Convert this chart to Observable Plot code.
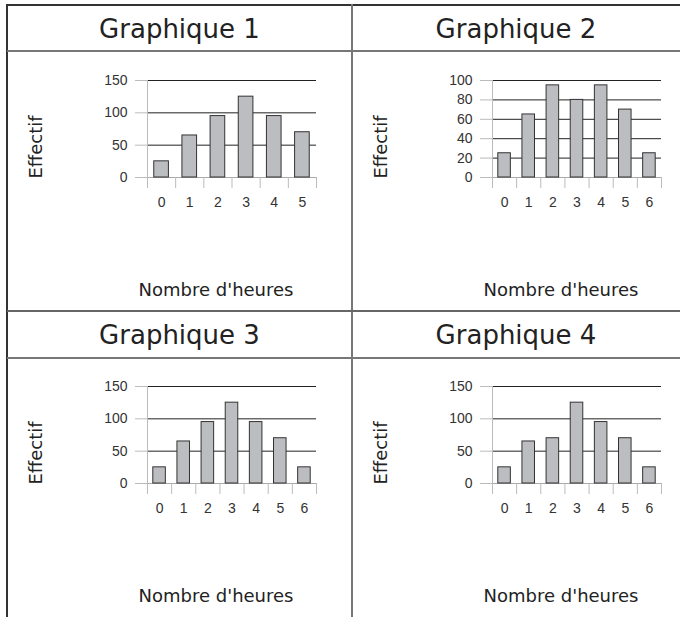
<!DOCTYPE html>
<html>
<head>
<meta charset="utf-8">
<script src="https://cdn.jsdelivr.net/npm/d3@7"></script>
<script src="https://cdn.jsdelivr.net/npm/@observablehq/plot@0.6"></script>
<style>
  html, body { margin: 0; padding: 0; background: #fff; }
  #root { position: relative; width: 680px; height: 617px; overflow: hidden; font-family: "DejaVu Sans", sans-serif; color: #222; }
  .hline, .vline { position: absolute; background: #555; }
  .title { position: absolute; font-size: 26px; transform: translate(-50%, -50%); white-space: nowrap; color: #222; }
  .ylab { position: absolute; font-size: 18px; transform: translate(-50%, -50%) rotate(-90deg); white-space: nowrap; color: #222; }
  .xlab { position: absolute; font-size: 18px; transform: translate(-50%, -50%); white-space: nowrap; color: #222; }
  .plot { position: absolute; }
</style>
</head>
<body>
<div id="root"></div>
<script>
// ---- Data ----
const titles = ["Graphique 1", "Graphique 2", "Graphique 3", "Graphique 4"];
const yLabel = "Effectif";
const xLabel = "Nombre d'heures";

const hours1 = [0, 1, 2, 3, 4, 5];
const effectif1 = [25, 65, 95, 125, 95, 70];

const hours2 = [0, 1, 2, 3, 4, 5, 6];
const effectif2 = [25, 65, 95, 80, 95, 70, 25];

const hours3 = [0, 1, 2, 3, 4, 5, 6];
const effectif3 = [25, 65, 95, 125, 95, 70, 25];

const hours4 = [0, 1, 2, 3, 4, 5, 6];
const effectif4 = [25, 65, 70, 125, 95, 70, 25];

const yTicksA = [0, 50, 100, 150];
const yTicksB = [0, 20, 40, 60, 80, 100];

// ---- Layout ----
const root = document.getElementById("root");
const cells = [
  {x: 7, y: 5, w: 345, hours: hours1, values: effectif1, yTicks: yTicksA},
  {x: 352, y: 5, w: 328, hours: hours2, values: effectif2, yTicks: yTicksB},
  {x: 7, y: 311, w: 345, hours: hours3, values: effectif3, yTicks: yTicksA},
  {x: 352, y: 311, w: 328, hours: hours4, values: effectif4, yTicks: yTicksA}
];

function line(cls, style) {
  const d = document.createElement("div");
  d.className = cls;
  Object.assign(d.style, style);
  root.appendChild(d);
}
// table lines
line("hline", {left: "7px", top: "4px", width: "673px", height: "1.5px", background: "#333"});
line("vline", {left: "6px", top: "4px", width: "1.5px", height: "613px", background: "#333"});
line("vline", {left: "351px", top: "4px", width: "2px", height: "613px", background: "#777"});
line("hline", {left: "7px", top: "50px", width: "673px", height: "2px", background: "#777"});
line("hline", {left: "7px", top: "310px", width: "673px", height: "2px", background: "#666"});
line("hline", {left: "7px", top: "357px", width: "673px", height: "2px", background: "#777"});

function text(cls, str, x, y) {
  const d = document.createElement("div");
  d.className = cls;
  d.textContent = str;
  d.style.left = x + "px";
  d.style.top = y + "px";
  root.appendChild(d);
}

const tickFont = "'Liberation Sans', Arial, sans-serif";

cells.forEach((c, i) => {
  text("title", titles[i], c.x + c.w / 2, c.y + 24);
  text("ylab", yLabel, c.x + 28, c.y + 142);
  text("xlab", xLabel, c.x + 209, c.y + 284);

  const data = c.hours.map((h, k) => ({h, v: c.values[k]}));
  const n = c.hours.length;
  const boundaries = d3.range(n + 1).map(k => k - 0.5);
  const yMax = c.yTicks[c.yTicks.length - 1];

  const chart = Plot.plot({
    width: 259,
    height: 160,
    marginLeft: 80,
    marginRight: 10,
    marginTop: 20,
    marginBottom: 43,
    style: {fontFamily: tickFont, fontSize: "14px", background: "transparent", overflow: "visible"},
    x: {domain: [-0.5, n - 0.5]},
    y: {domain: [0, yMax]},
    marks: [
      Plot.ruleY(c.yTicks.filter(t => t > 0), {stroke: "#222", strokeWidth: 1}),
      Plot.ruleY([0], {stroke: "#aaa", strokeWidth: 1}),
      Plot.ruleX([-0.5], {stroke: "#bbb", strokeWidth: 1}),
      Plot.axisY({ticks: c.yTicks, tickSize: 12, tickPadding: 8, stroke: "#bbb", fill: "#333", fontSize: 14, fontFamily: tickFont, label: null, tickFormat: d => String(d)}),
      Plot.axisX({ticks: boundaries, tickSize: 11, tickFormat: () => "", stroke: "#bbb", label: null}),
      Plot.axisX({ticks: c.hours, tickSize: 0, tickPadding: 20, fill: "#333", fontSize: 14, fontFamily: tickFont, label: null, tickFormat: d => String(d)}),
      Plot.rectY(data, {x1: d => d.h - 0.26, x2: d => d.h + 0.26, y1: 0, y2: "v", fill: "#bcbdc1", stroke: "#333", strokeWidth: 1})
    ]
  });
  chart.classList.add("plot");
  chart.style.left = (c.x + 60) + "px";
  chart.style.top = (c.y + 55) + "px";
  root.appendChild(chart);
});
</script>
</body>
</html>
